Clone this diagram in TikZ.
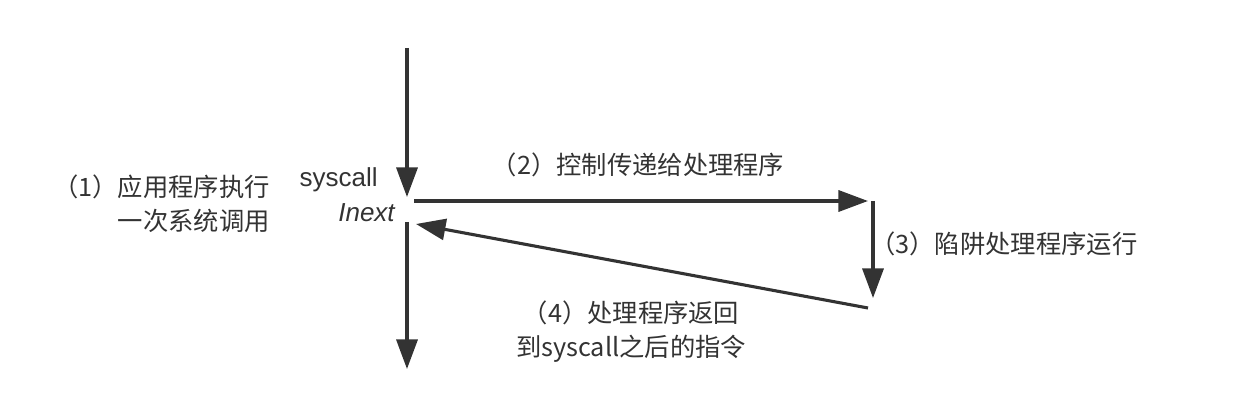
\documentclass[tikz,border=0pt]{standalone}
\usepackage{fontspec}
\setmainfont{Liberation Sans}
\newfontfamily\cjk{Noto Sans CJK SC}
\usetikzlibrary{arrows.meta}

\begin{document}
\begin{tikzpicture}[
		x=0.025cm, y=-0.025cm,   % one unit = one pixel of the 1240x418 frame
		line cap=butt, line join=miter,
		>={Triangle[length=21pt,width=15pt]},
		flow/.style={->, line width=2.2pt, draw=arrowgray},
		lbl/.style={inner sep=0pt, font=\cjk\fontsize{18}{24}\selectfont, text=textgray}
		]
		\definecolor{arrowgray}{HTML}{333333}
		\definecolor{textgray}{HTML}{333333}
		
		% ---------- Frame ----------
		\useasboundingbox (0,0) rectangle (1240,418);
		
		% ---------- Points of the control flow ----------
		\coordinate (Top)   at (407,48);
		\coordinate (Sys)   at (407,197);
		\coordinate (Next)  at (407,222);
		\coordinate (Bot)   at (407,369);
		\coordinate (Go)    at (414,201);
		\coordinate (Hin)   at (868,201);
		\coordinate (Hstart) at (873,201);
		\coordinate (Hend)  at (873,298);
		\coordinate (Hback) at (868,308);
		\coordinate (Ret)   at (416,224);
		
		% ---------- Application program ----------
		\draw[flow] (Top) -- (Sys);
		\draw[flow] (Next) -- (Bot);
		
		% ---------- Trap to handler and back ----------
		\draw[flow] (Go) -- (Hin);
		\draw[flow] (Hstart) -- (Hend);
		\draw[flow] (Hback) -- (Ret);
		
		% ---------- Labels ----------
		\node[lbl, anchor=east, align=right] (app) at (270,204)
		{（1）应用程序执行\\一次系统调用};
		\node[lbl, anchor=east, font=\fontsize{18.5}{22}\selectfont] (syscall) at (378,180) {syscall};
		\node[lbl, anchor=east, font=\fontsize{18.5}{22}\selectfont\itshape] (inext) at (395,213) {Inext};
		\node[lbl] (pass) at (638,165) {（2）控制传递给处理程序};
		\node[lbl, anchor=west] (run) at (870,244) {（3）陷阱处理程序运行};
		\node[lbl, align=center] (back) at (631,332)
		{（4）处理程序返回\\到syscall之后的指令};
		
	\end{tikzpicture}
\end{document}
